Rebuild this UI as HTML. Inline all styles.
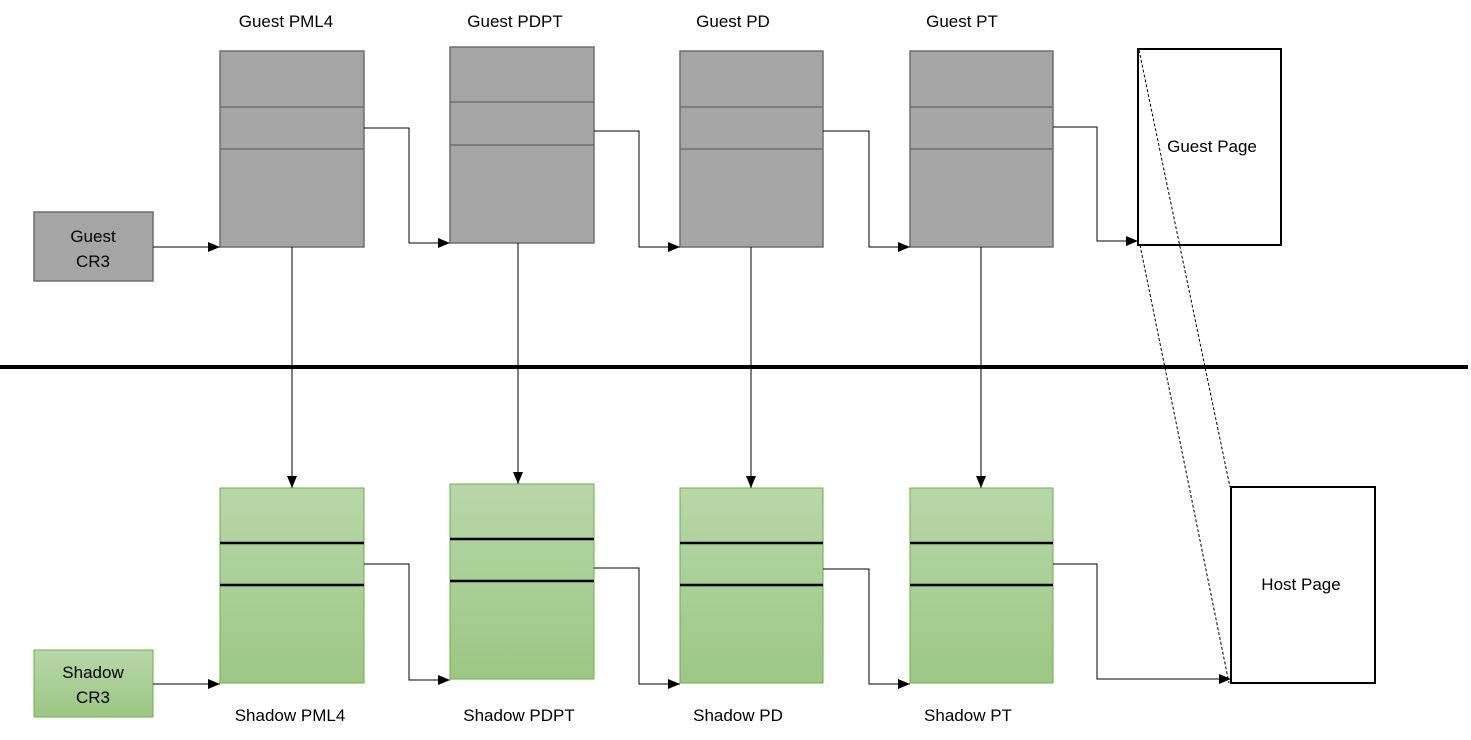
<!DOCTYPE html>
<html><head><meta charset="utf-8"><style>
html,body{margin:0;padding:0;background:#fff;}
svg{display:block;}
text{font-family:"Liberation Sans",sans-serif;font-size:17px;fill:#000;}
</style></head><body>
<svg width="1471" height="740" viewBox="0 0 1471 740" xmlns="http://www.w3.org/2000/svg">
<defs>
<linearGradient id="g" x1="0" y1="0" x2="0" y2="1">
<stop offset="0" stop-color="#b7d7a9"/><stop offset="1" stop-color="#9cc784"/>
</linearGradient>
<marker id="a" markerWidth="12" markerHeight="10" refX="12" refY="5" orient="auto" markerUnits="userSpaceOnUse">
<path d="M0,0 L12,5 L0,10 z" fill="#000"/>
</marker>
</defs>
<!-- guest boxes -->
<g fill="#a5a5a5" stroke="#6f6f6f" stroke-width="1.5">
<rect x="34" y="212" width="119" height="69"/>
<rect x="220" y="51" width="144" height="196"/>
<rect x="450" y="47" width="144" height="196"/>
<rect x="680" y="51" width="143" height="196"/>
<rect x="910" y="51" width="143" height="196"/>
</g>
<g stroke="#6f6f6f" stroke-width="1.5">
<line x1="220" y1="107" x2="364" y2="107"/><line x1="220" y1="149" x2="364" y2="149"/>
<line x1="450" y1="102" x2="594" y2="102"/><line x1="450" y1="145" x2="594" y2="145"/>
<line x1="680" y1="107" x2="823" y2="107"/><line x1="680" y1="149" x2="823" y2="149"/>
<line x1="910" y1="107" x2="1053" y2="107"/><line x1="910" y1="149" x2="1053" y2="149"/>
</g>
<rect x="1138" y="49" width="143" height="196" fill="#fff" stroke="#000" stroke-width="2"/>
<rect x="1231" y="487" width="144" height="196" fill="#fff" stroke="#000" stroke-width="2"/>
<!-- shadow boxes -->
<g fill="url(#g)" stroke="#70ad47" stroke-width="1">
<rect x="34" y="650" width="119" height="67"/>
<rect x="220" y="488" width="144" height="195"/>
<rect x="450" y="484" width="144" height="195"/>
<rect x="680" y="488" width="143" height="195"/>
<rect x="910" y="488" width="143" height="195"/>
</g>
<g stroke="#000" stroke-width="2.5">
<line x1="220" y1="543" x2="364" y2="543"/><line x1="220" y1="585" x2="364" y2="585"/>
<line x1="450" y1="539" x2="594" y2="539"/><line x1="450" y1="581" x2="594" y2="581"/>
<line x1="680" y1="543" x2="823" y2="543"/><line x1="680" y1="585" x2="823" y2="585"/>
<line x1="910" y1="543" x2="1053" y2="543"/><line x1="910" y1="585" x2="1053" y2="585"/>
</g>
<line x1="0" y1="367" x2="1468" y2="367" stroke="#000" stroke-width="4"/>
<!-- connectors -->
<g fill="none" stroke="#000" stroke-width="1" marker-end="url(#a)">
<path d="M153,247 H220"/>
<path d="M364,128 H409 V243 H450"/>
<path d="M594,131 H639 V247 H680"/>
<path d="M823,131 H869 V247 H910"/>
<path d="M1053,127 H1097 V241 H1138"/>
<path d="M292,247 V488"/>
<path d="M518,243 V484"/>
<path d="M751,247 V488"/>
<path d="M981,247 V488"/>
<path d="M153,684 H220"/>
<path d="M364,564 H409 V680 H450"/>
<path d="M594,568 H639 V684 H680"/>
<path d="M823,569 H869 V684 H910"/>
<path d="M1053,564 H1097 V679 H1231"/>
</g>
<g stroke="#000" stroke-width="1" stroke-dasharray="3,2">
<line x1="1139" y1="50" x2="1230" y2="487"/>
<line x1="1140" y1="245" x2="1229" y2="683"/>
</g>
<!-- labels -->
<text x="286" y="27" text-anchor="middle">Guest PML4</text>
<text x="515" y="27" text-anchor="middle">Guest PDPT</text>
<text x="733" y="27" text-anchor="middle">Guest PD</text>
<text x="962" y="27" text-anchor="middle">Guest PT</text>
<text x="93" y="242" text-anchor="middle">Guest</text>
<text x="93" y="267" text-anchor="middle">CR3</text>
<text x="1212" y="152" text-anchor="middle">Guest Page</text>
<text x="1301" y="590" text-anchor="middle">Host Page</text>
<text x="93" y="678" text-anchor="middle">Shadow</text>
<text x="93" y="703" text-anchor="middle">CR3</text>
<text x="290" y="721" text-anchor="middle">Shadow PML4</text>
<text x="519" y="721" text-anchor="middle">Shadow PDPT</text>
<text x="738" y="721" text-anchor="middle">Shadow PD</text>
<text x="968" y="721" text-anchor="middle">Shadow PT</text>
</svg>
</body></html>
